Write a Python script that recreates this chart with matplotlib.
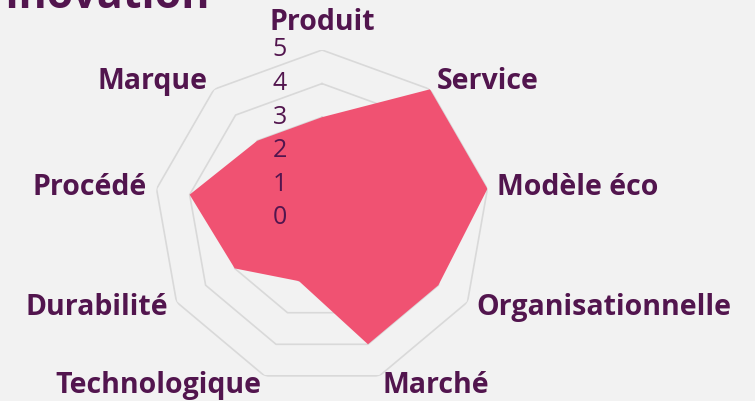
import numpy as np
import matplotlib
matplotlib.use("Agg")
import matplotlib.pyplot as plt

categories = ["Produit", "Service", "Modèle éco", "Organisationnelle", "Marché",
              "Technologique", "Durabilité", "Procédé", "Marque"]
values = [3, 5, 5, 4, 4, 2, 3, 4, 3]
rticks = [0, 1, 2, 3, 4, 5]
title = "Innovation"

BG = "#F2F2F2"
TXT = "#52154E"
FILL = "#F05272"
GRID = "#D9D9D9"
FONT = "Open Sans"

W, H, DPI = 755, 401, 100
fig = plt.figure(figsize=(W / DPI, H / DPI), dpi=DPI, facecolor=BG)

cx, cy, R = 322, 218, 168
ax = fig.add_axes([(cx - R) / W, (H - cy - R) / H, 2 * R / W, 2 * R / H], projection="polar")
ax.set_theta_zero_location("N")
ax.set_theta_direction(-1)
ax.set_ylim(0, max(rticks))
ax.patch.set_visible(False)
ax.spines["polar"].set_visible(False)
ax.grid(False)
ax.set_xticks([])
ax.set_yticks([])

n = len(categories)
theta = np.arange(n) * 2 * np.pi / n
theta_c = np.append(theta, theta[0])

for r in rticks[1:]:
    ax.plot(theta_c, [r] * (n + 1), color=GRID, lw=1.2, zorder=1)

vals_c = np.append(values, values[0])
ax.fill(theta_c, vals_c, color=FILL, lw=0, zorder=2)

for r in rticks:
    ax.annotate(str(r), xy=(0, r), xytext=(-42, 0), textcoords="offset pixels",
                ha="center", va="center", fontsize=18, color=TXT, family=FONT, zorder=3)

rmax = max(rticks)
for t, lab in zip(theta, categories):
    s, c = np.sin(t), np.cos(t)
    if abs(s) < 1e-6:
        ha, va, off = "center", "bottom", (0, 13)
    else:
        ha = "left" if s > 0 else "right"
        va = "center"
        off = (10 * s, 10 * c)
    ax.annotate(lab, xy=(t, rmax), xytext=off, textcoords="offset pixels",
                ha=ha, va=va, fontsize=20.5, fontweight="bold", color=TXT, family=FONT,
                annotation_clip=False)

fig.text(-24 / W, 1 - 8 / H, title, ha="left", va="baseline", fontsize=31,
         fontweight="bold", color=TXT, family=FONT)

fig.savefig("out.png", dpi=DPI, facecolor=BG)
